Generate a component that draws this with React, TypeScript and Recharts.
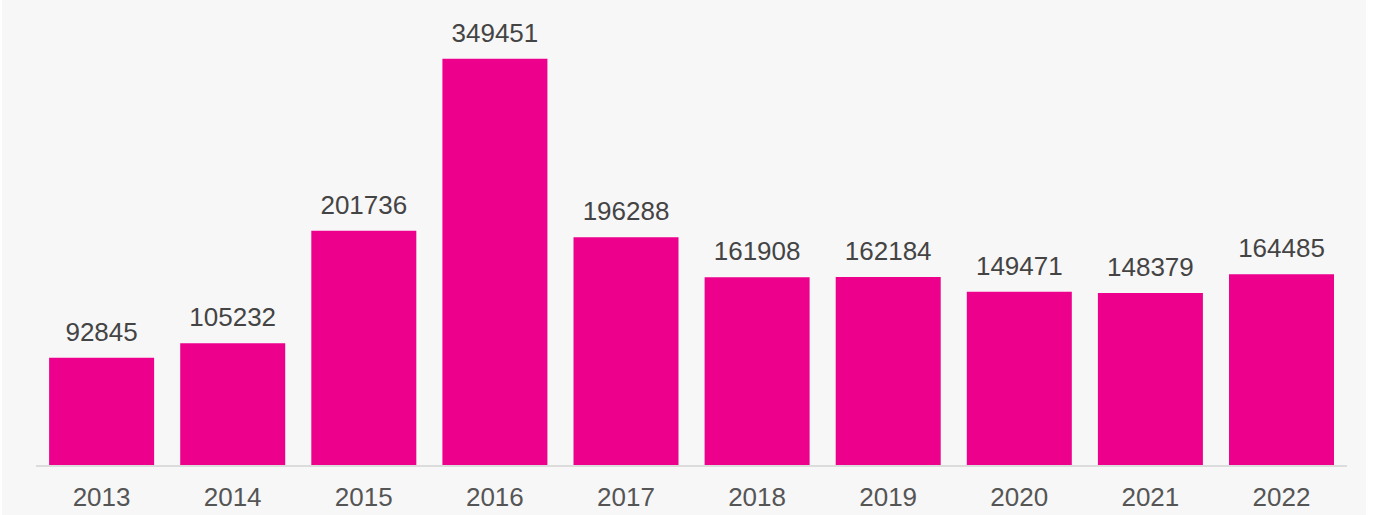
import { BarChart, Bar, XAxis, YAxis, LabelList } from 'recharts';

const years = ['2013', '2014', '2015', '2016', '2017', '2018', '2019', '2020', '2021', '2022'];
const counts = [92845, 105232, 201736, 349451, 196288, 161908, 162184, 149471, 148379, 164485];

const data = years.map((year, i) => ({ year, value: counts[i] }));

const FONT = '"Liberation Sans", Arial, Helvetica, sans-serif';

export default function App() {
  return (
    <div style={{ position: 'absolute', left: 0, top: 0, width: 1378, height: 515, background: '#fff' }}>
      <div style={{ position: 'absolute', left: 2, top: 0, width: 1364, height: 515, background: '#f7f7f7' }}>
        <BarChart
          width={1364}
          height={515}
          data={data}
          margin={{ top: 58, right: 19, left: 34, bottom: 0 }}
          barCategoryGap="10%"
        >
          <XAxis
            dataKey="year"
            height={49}
            tickLine={false}
            tickMargin={16}
            axisLine={{ stroke: '#dcdcdc', strokeWidth: 2 }}
            tick={{ fill: '#555', fontSize: 26, fontFamily: FONT }}
            interval={0}
          />
          <YAxis hide domain={[0, 350000]} />
          <Bar dataKey="value" fill="#ec008c" isAnimationActive={false}>
            <LabelList
              dataKey="value"
              position="top"
              offset={17}
              fill="#444"
              fontSize={26}
              fontFamily={FONT}
            />
          </Bar>
        </BarChart>
      </div>
    </div>
  );
}
